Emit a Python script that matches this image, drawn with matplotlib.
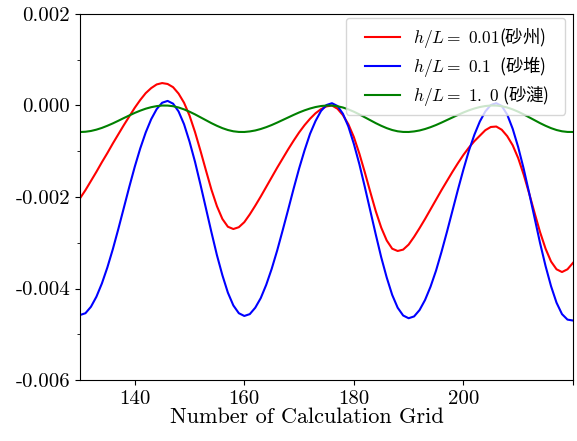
import matplotlib
matplotlib.use('Agg')
import matplotlib.pyplot as plt
from matplotlib.ticker import MultipleLocator, FormatStrFormatter
from matplotlib.legend_handler import HandlerLine2D
import numpy as np

plt.rcParams['font.family'] = ['cmr10', 'Noto Sans CJK JP']
plt.rcParams['mathtext.fontset'] = 'cm'
plt.rcParams['axes.unicode_minus'] = False
plt.rcParams['axes.formatter.use_mathtext'] = True

grid = np.arange(130, 221)

# h/L = 0.01 (砂州)
sasu = [
    -0.00203, -0.00185, -0.00165, -0.00145, -0.00124, -0.00104, -0.00083, -0.00063,
    -0.00043, -0.00024, -0.00005, 0.00012, 0.00027, 0.00038, 0.00046, 0.00049,
    0.00047, 0.00040, 0.00026, 0.00006, -0.00022, -0.00058, -0.00099, -0.00142,
    -0.00184, -0.00220, -0.00248, -0.00265, -0.00270, -0.00266, -0.00255, -0.00238,
    -0.00219, -0.00199, -0.00178, -0.00157, -0.00136, -0.00116, -0.00096, -0.00077,
    -0.00059, -0.00043, -0.00029, -0.00017, -0.00008, -0.00002, 0.00000, -0.00007,
    -0.00021, -0.00041, -0.00069, -0.00105, -0.00146, -0.00189, -0.00231, -0.00267,
    -0.00295, -0.00313, -0.00318, -0.00315, -0.00304, -0.00287, -0.00268, -0.00248,
    -0.00227, -0.00206, -0.00185, -0.00165, -0.00145, -0.00126, -0.00108, -0.00092,
    -0.00078, -0.00066, -0.00054, -0.00047, -0.00046, -0.00053, -0.00067, -0.00087,
    -0.00115, -0.00151, -0.00192, -0.00235, -0.00277, -0.00313, -0.00341, -0.00358,
    -0.00364, -0.00358, -0.00344,
]

# h/L = 0.1 (砂堆)
satai = [
    -0.00458, -0.00454, -0.00440, -0.00418, -0.00389, -0.00354, -0.00314, -0.00270,
    -0.00224, -0.00178, -0.00134, -0.00094, -0.00059, -0.00030, -0.00008, 0.00006,
    0.00010, 0.00004, -0.00013, -0.00041, -0.00079, -0.00123, -0.00173, -0.00225,
    -0.00277, -0.00327, -0.00371, -0.00409, -0.00437, -0.00454, -0.00460, -0.00456,
    -0.00442, -0.00421, -0.00392, -0.00357, -0.00317, -0.00273, -0.00228, -0.00182,
    -0.00138, -0.00098, -0.00062, -0.00034, -0.00012, 0.00001, 0.00005, -0.00001,
    -0.00018, -0.00046, -0.00084, -0.00128, -0.00178, -0.00230, -0.00282, -0.00332,
    -0.00376, -0.00414, -0.00442, -0.00459, -0.00465, -0.00461, -0.00447, -0.00425,
    -0.00396, -0.00361, -0.00320, -0.00276, -0.00230, -0.00184, -0.00140, -0.00099,
    -0.00064, -0.00035, -0.00013, 0.00001, 0.00005, -0.00001, -0.00020, -0.00051,
    -0.00091, -0.00138, -0.00191, -0.00246, -0.00301, -0.00351, -0.00395, -0.00431,
    -0.00456, -0.00468, -0.00470,
]

# h/L = 1.0 (砂漣)
saren = [
    -0.000580, -0.000574, -0.000557, -0.000528, -0.000490, -0.000443, -0.000391, -0.000334,
    -0.000275, -0.000218, -0.000162, -0.000113, -0.000070, -0.000037, -0.000014, -0.000001,
    -0.000002, -0.000016, -0.000044, -0.000085, -0.000136, -0.000194, -0.000258, -0.000322,
    -0.000386, -0.000444, -0.000495, -0.000536, -0.000564, -0.000578, -0.000579, -0.000567,
    -0.000546, -0.000514, -0.000474, -0.000427, -0.000374, -0.000318, -0.000262, -0.000206,
    -0.000153, -0.000106, -0.000066, -0.000034, -0.000012, -0.000001, -0.000002, -0.000016,
    -0.000044, -0.000085, -0.000136, -0.000194, -0.000258, -0.000322, -0.000386, -0.000444,
    -0.000495, -0.000536, -0.000564, -0.000578, -0.000579, -0.000567, -0.000546, -0.000514,
    -0.000474, -0.000427, -0.000374, -0.000318, -0.000262, -0.000206, -0.000153, -0.000106,
    -0.000066, -0.000034, -0.000012, -0.000001, -0.000002, -0.000016, -0.000044, -0.000085,
    -0.000136, -0.000194, -0.000258, -0.000322, -0.000386, -0.000444, -0.000495, -0.000536,
    -0.000564, -0.000578, -0.000579,
]

# math part in Computer Modern, kanji in the plain text font
labels = [r'$h/L{=}\ 0.01$(砂州)', r'$h/L{=}\ 0.1\ $ (砂堆)', r'$h/L{=}\ 1.\ 0$ (砂漣)']

fig = plt.figure(figsize=(5.77, 4.41), dpi=100)
ax = fig.add_axes([0.1386, 0.1383, 0.8544, 0.83])

lines = []
lines += ax.plot(grid, sasu, color='red', lw=1.5, label=labels[0])
lines += ax.plot(grid, satai, color='blue', lw=1.5, label=labels[1])
lines += ax.plot(grid, saren, color='green', lw=1.5, label=labels[2])

ax.set_xlim(130, 220)
ax.set_ylim(-0.006, 0.002)
ax.set_xticks([140, 160, 180, 200, 220])
ax.set_xticklabels(['140', '160', '180', '200', ''])
ax.yaxis.set_major_locator(MultipleLocator(0.002))
ax.yaxis.set_minor_locator(MultipleLocator(0.001))
ax.yaxis.set_major_formatter(FormatStrFormatter('%.3f'))
ax.tick_params(labelsize=15)
ax.set_xlabel('Number of Calculation Grid', fontsize=16, labelpad=0)
ax.xaxis.label.set_x(0.46)

# wider box than default, like the original
hmap = {ln: HandlerLine2D(xpad=0.69) for ln in lines}
ax.legend(loc='upper right', prop={'family': 'Noto Sans CJK JP', 'size': 12.5},
          labelspacing=0.25, borderaxespad=0, handlelength=2.69, handletextpad=0.75,
          mode='expand', bbox_to_anchor=(0.5396, 0.0, 0.4442, 0.989),
          handler_map=hmap)

fig.savefig('out.png', dpi=100)
